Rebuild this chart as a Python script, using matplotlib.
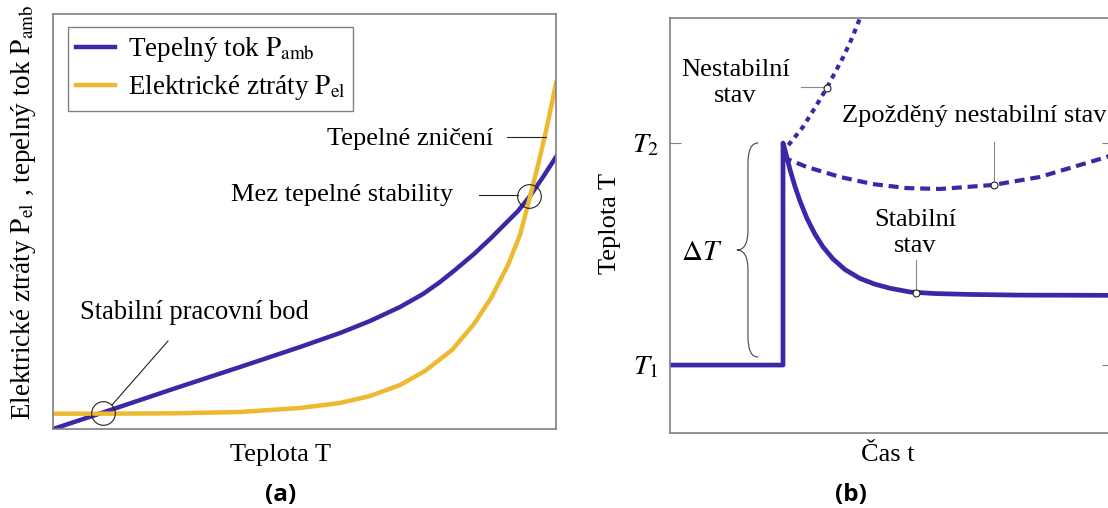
import matplotlib
matplotlib.use("Agg")
import matplotlib.pyplot as plt
from matplotlib.path import Path
from matplotlib.patches import PathPatch

plt.rcParams['font.family'] = ['Liberation Serif', 'DejaVu Serif']
plt.rcParams['mathtext.fontset'] = 'stix'

BLUE = '#3b28a6'
YELLOW = '#ecb930'
GREY = '#808080'

# (a) curves, x and y in 0..100
t_amb = [0.0, 9.94, 23.86, 37.18, 49.11, 57.06, 63.02, 68.99, 73.56, 76.94, 79.92,
         83.70, 86.88, 89.86, 92.45, 94.83, 97.42, 100.0]
p_amb = [0.0, 3.98, 9.64, 14.94, 19.76, 23.13, 26.02, 29.40, 32.53, 35.42, 38.31,
         42.17, 45.78, 49.40, 52.53, 56.14, 60.72, 65.54]

t_el = [0.0, 13.32, 23.86, 37.18, 49.11, 57.06, 63.02, 68.99, 73.96, 79.32, 83.70,
        87.08, 90.46, 92.84, 94.83, 96.62, 98.01, 99.20, 100.0]
p_el = [3.69, 3.71, 3.78, 4.10, 5.06, 6.27, 7.95, 10.60, 13.98, 19.04, 25.30,
        31.57, 39.52, 46.75, 55.90, 64.58, 71.81, 78.55, 83.37]

# (b) temperature curves, time 0..10, T1 = 1, T2 = 2
t_stable = [0.0, 2.551, 2.551, 2.596, 2.709, 2.822, 2.935, 3.093, 3.273, 3.454, 3.679,
            3.950, 4.289, 4.628, 4.966, 5.418, 5.982, 6.772, 7.901, 10.0]
T_stable = [1.0, 1.0, 2.0, 1.968, 1.880, 1.804, 1.738, 1.660, 1.589, 1.532, 1.478,
            1.430, 1.390, 1.364, 1.346, 1.329, 1.322, 1.318, 1.315, 1.314]

t_unstable = [2.53, 3.00, 3.27, 3.54, 3.91, 4.11, 4.29]
T_unstable = [1.955, 2.072, 2.158, 2.248, 2.387, 2.473, 2.563]

t_delayed = [2.53, 3.09, 3.84, 4.58, 5.35, 6.09, 7.29, 8.35, 9.10, 9.86, 10.0]
T_delayed = [1.937, 1.892, 1.847, 1.815, 1.797, 1.793, 1.811, 1.847, 1.892, 1.937, 1.95]

fig = plt.figure(figsize=(11.08, 5.08), dpi=100)

# ---------------- (a)
ax = fig.add_axes([53/1108, (508-429)/508, 503/1108, 415/508])
ax.plot(t_amb, p_amb, color=BLUE, lw=3.2, solid_joinstyle='round',
        label='Tepelný tok $\\mathrm{P_{amb}}$')
ax.plot(t_el, p_el, color=YELLOW, lw=3.2, solid_joinstyle='round',
        label='Elektrické ztráty $\\mathrm{P_{el}}$')
ax.set_xlim(0, 100)
ax.set_ylim(0, 100)
ax.set_xticks([])
ax.set_yticks([])
for s in ax.spines.values():
    s.set_color(GREY)
    s.set_linewidth(1.2)

leg = ax.legend(loc='upper left', bbox_to_anchor=(0.03, 0.969), borderaxespad=0,
                fontsize=19.5, handlelength=1.45, frameon=True, fancybox=False,
                edgecolor=GREY, framealpha=1, borderpad=0.3, labelspacing=0.35,
                handletextpad=0.45)
leg.get_frame().set_linewidth(1.0)

# marked points
ax.plot([9.94, 94.63], [3.86, 56.14], 'o', ls='none', ms=17, mfc='none',
        mec='#222222', mew=0.8)

ax.plot([11.73, 22.86], [5.78, 21.2], color='#222222', lw=0.8)
ax.text(5.37, 26.5, 'Stabilní pracovní bod', fontsize=19.2, va='baseline', ha='left')

ax.plot([84.6, 92.4], [56.4, 56.4], color='#222222', lw=0.8)
ax.text(79.5, 55.0, 'Mez tepelné stability', fontsize=19, va='baseline', ha='right')

ax.plot([90.2, 98.0], [70.4, 70.4], color='#222222', lw=0.8)
ax.text(87.6, 68.4, 'Tepelné zničení', fontsize=19, va='baseline', ha='right')

ax.set_xlabel('Teplota T', fontsize=19)
ax.xaxis.set_label_coords((281-53)/503, -0.035)
ax.set_ylabel('Elektrické ztráty $\\mathrm{P_{el}}$ , tepelný tok $\\mathrm{P_{amb}}$',
              fontsize=19.5)
ax.yaxis.set_label_coords(-0.03, 0.522)

fig.text(281/1108, 1 - 495/508, '(a)', fontsize=17.5, fontweight='bold',
         family='Open Sans', ha='center', va='center')

# ---------------- (b)
bx = fig.add_axes([670/1108, (508-433)/508, 443/1108, 415/508])
bx.plot(t_stable, T_stable, color=BLUE, lw=3.4, solid_joinstyle='round')
bx.plot(t_unstable, T_unstable, color=BLUE, lw=3.0, dashes=(1.2, 1.2),
        dash_capstyle='butt')
bx.plot(t_delayed, T_delayed, color=BLUE, lw=3.0, dashes=(2.4, 1.4),
        dash_capstyle='butt')
bx.set_xlim(0, 10)
bx.set_ylim(0.694, 2.563)
bx.set_xticks([])
bx.set_yticks([1, 2])
bx.set_yticklabels(['$T_1$', '$T_2$'], fontsize=20.5)
bx.tick_params(axis='y', direction='in', length=8, width=0.8, color=GREY,
               right=True, pad=8)
for s in bx.spines.values():
    s.set_color(GREY)
    s.set_linewidth(1.2)

# annotations with small open circles
bx.plot([2.96, 3.54], [2.25, 2.25], color='#888888', lw=0.8)
bx.plot([7.32, 7.32], [2.006, 1.813], color='#888888', lw=0.8)
bx.plot([5.55, 5.55], [1.473, 1.325], color='#888888', lw=0.8)
bx.plot([3.54, 7.32, 5.55], [2.248, 1.813, 1.325], 'o', ls='none', ms=5,
        mfc='white', mec='#222222', mew=0.8)

bx.text(1.48, 2.27, 'Nestabilní\nstav', fontsize=19, ha='center', va='center',
        linespacing=1.25)
bx.text(6.86, 2.095, 'Zpožděný nestabilní stav', fontsize=19, ha='center',
        va='baseline')
bx.text(5.53, 1.595, 'Stabilní\nstav', fontsize=19, ha='center', va='center',
        linespacing=1.25)

# brace for delta T
xe, xv, xc = 1.99, 1.76, 1.51
yt, yb = 2.0, 1.036
ym = (yt + yb) / 2
r = 0.09
verts = [(xe, yt), (xv, yt), (xv, yt - r),
         (xv, ym + r), (xv, ym), (xc, ym),
         (xv, ym), (xv, ym - r),
         (xv, yb + r), (xv, yb), (xe, yb)]
codes = [Path.MOVETO, Path.CURVE3, Path.CURVE3,
         Path.LINETO, Path.CURVE3, Path.CURVE3,
         Path.CURVE3, Path.CURVE3,
         Path.LINETO, Path.CURVE3, Path.CURVE3]
bx.add_patch(PathPatch(Path(verts, codes), fc='none', ec='#444444', lw=0.8))
bx.text(0.72, 1.505, '$\\Delta T$', fontsize=21, ha='center', va='center')

bx.set_xlabel('Čas t', fontsize=19)
bx.xaxis.set_label_coords((888-670)/443, -0.027)
bx.set_ylabel('Teplota T', fontsize=19)
bx.yaxis.set_label_coords(-0.110, 0.504)

fig.text(851/1108, 1 - 495/508, '(b)', fontsize=17.5, fontweight='bold',
         family='Open Sans', ha='center', va='center')

fig.savefig('out.png', dpi=100)
